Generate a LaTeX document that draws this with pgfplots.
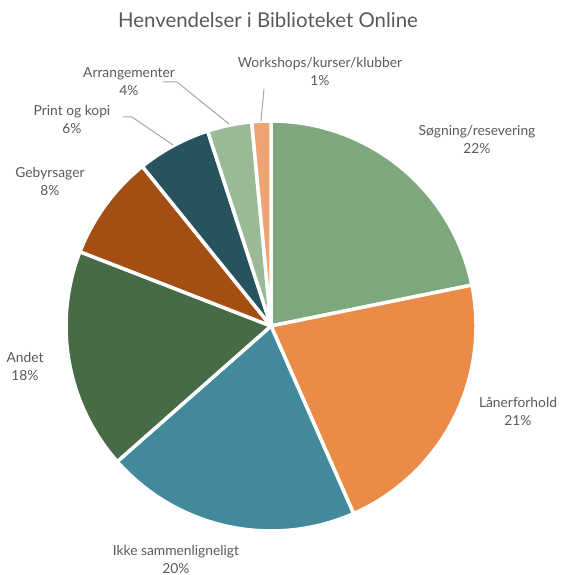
\documentclass[border=0pt]{standalone}
\usepackage{pgfplots}
\pgfplotsset{compat=1.18}
\usepackage{pgfplotstable}
\usepackage{fontspec}
\setmainfont{Lato}
\definecolor{cSog}{HTML}{7DA87D}
\definecolor{cLan}{HTML}{EA8B48}
\definecolor{cIkke}{HTML}{428A9B}
\definecolor{cAndet}{HTML}{476A47}
\definecolor{cGeb}{HTML}{A34F14}
\definecolor{cPrint}{HTML}{27535E}
\definecolor{cArr}{HTML}{9ABA97}
\definecolor{cWork}{HTML}{EEA472}
\definecolor{txt}{HTML}{595959}
\definecolor{lead}{HTML}{A6A6A6}
\pgfplotstableread[col sep=comma]{
name,value,color
Sogning,21.8,cSog
Lanerforhold,21.6,cLan
Ikke,20.1,cIkke
Andet,17.4,cAndet
Gebyrsager,8.3,cGeb
Print,5.8,cPrint
Arrangementer,3.5,cArr
Workshops,1.5,cWork
}\piedata
\begin{document}
\begin{tikzpicture}
\useasboundingbox (0,0) rectangle (564pt,-575pt);
\begin{axis}[at={(0,0)},anchor=north west,
  x=205pt,y=205pt,
  xmin=-1.3220,xmax=1.4293,ymin=-1.2146,ymax=1.5902,
  scale only axis, hide axis, clip=false]
\def\cum{0}
\pgfplotsforeachungrouped \i in {0,...,7}{%
  \pgfplotstablegetelem{\i}{value}\of\piedata \let\pval\pgfplotsretval
  \pgfplotstablegetelem{\i}{color}\of\piedata \let\pcol\pgfplotsretval
  \pgfmathsetmacro\aS{90-3.6*\cum}%
  \pgfmathsetmacro\cum{\cum+\pval}%
  \pgfmathsetmacro\aE{90-3.6*\cum}%
  \edef\doplot{\noexpand\addplot[draw=white,line width=3.5pt,fill=\pcol,
     domain=\aE:\aS,samples=90,line join=round]
     ({cos(x)},{sin(x)}) -- (0,0) -- cycle;}%
  \doplot
}
\end{axis}
\begin{scope}[x=1pt,y=-1pt,
  every node/.style={text=txt,align=center,font=\fontsize{13.8}{18}\selectfont}]
\node[font=\fontsize{20.4}{24}\selectfont] at (268,20) {Henvendelser i Biblioteket Online};
\node at (320,71) {Workshops/kurser/klubber\\1\%};
\node at (477,139) {Søgning/resevering\\22\%};
\node at (518,411) {Lånerforhold\\21\%};
\node at (176,559) {Ikke sammenligneligt\\20\%};
\node at (25,366) {Andet\\18\%};
\node at (50,181) {Gebyrsager\\8\%};
\node at (72,119) {Print og kopi\\6\%};
\node at (129,82) {Arrangementer\\4\%};
\draw[lead,line width=1pt] (163,82) -- (177,82) -- (229,124);
\draw[lead,line width=1pt] (123,117) -- (132,117) -- (173,145);
\draw[lead,line width=1pt] (264,89) -- (261,121);
\end{scope}
\end{tikzpicture}
\end{document}
